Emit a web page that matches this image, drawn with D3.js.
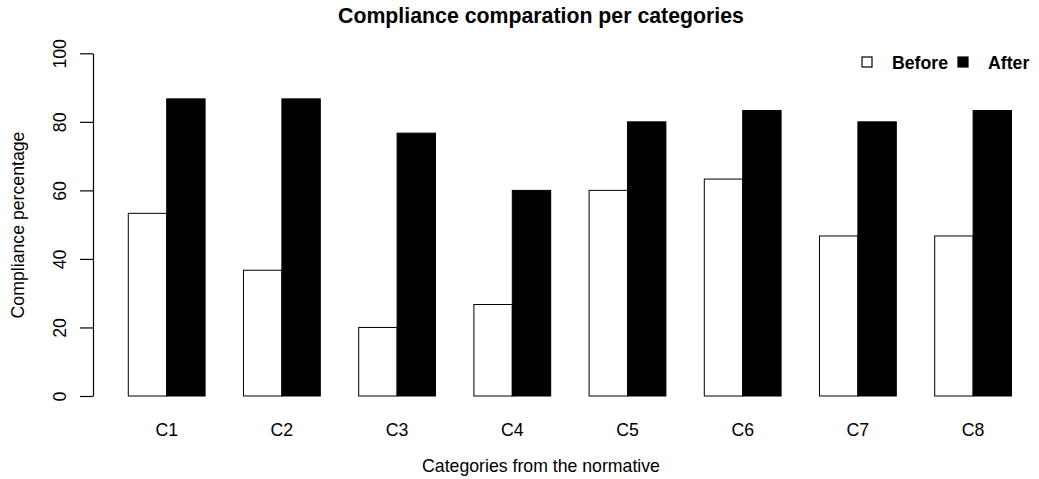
<!DOCTYPE html>
<html>
<head>
<meta charset="utf-8">
<script src="https://cdn.jsdelivr.net/npm/d3@7"></script>
<style>
  body { margin: 0; background: #fff; }
  text { font-family: "Liberation Sans", Arial, Helvetica, sans-serif; }
</style>
</head>
<body>
<div id="chart"></div>
<script>
// Compliance comparison, R barplot style (beside = TRUE)

const categories = ["C1", "C2", "C3", "C4", "C5", "C6", "C7", "C8"];
const seriesNames = ["Before", "After"];
const beforeValues = [53.3, 36.7, 20, 26.7, 60, 63.3, 46.7, 46.7];
const afterValues = [86.7, 86.7, 76.7, 60, 80, 83.3, 80, 83.3];
const yTicks = [0, 20, 40, 60, 80, 100];

const width = 1039, height = 479;
const baseFont = 17.7;

const svg = d3.select("#chart")
    .append("svg")
    .attr("width", width)
    .attr("height", height);

// Scales
const x = d3.scaleBand()
    .domain(categories)
    .range([128.3, 1011.5])
    .paddingInner(1 / 3)
    .paddingOuter(0);

const xInner = d3.scaleBand()
    .domain(seriesNames)
    .range([0, x.bandwidth()]);

const y = d3.scaleLinear().domain([0, 100]).range([396, 53.3]);

const colors = { Before: "#ffffff", After: "#000000" };

const rows = categories.map((c, i) => ({
    cat: c,
    values: [
        { key: "Before", value: beforeValues[i] },
        { key: "After", value: afterValues[i] }
    ]
}));

// Bars
const groups = svg.selectAll(".grp")
    .data(rows)
    .enter()
    .append("g")
    .attr("class", "grp")
    .attr("transform", d => `translate(${x(d.cat)},0)`);

groups.selectAll("rect")
    .data(d => d.values)
    .enter()
    .append("rect")
    .attr("x", d => xInner(d.key))
    .attr("y", d => y(d.value))
    .attr("width", xInner.bandwidth())
    .attr("height", d => y(0) - y(d.value))
    .attr("fill", d => colors[d.key])
    .attr("stroke", "#000")
    .attr("stroke-width", 1);

// Y axis
const yAxis = svg.append("g")
    .attr("transform", "translate(93,0)")
    .call(d3.axisLeft(y).tickValues(yTicks).tickSize(13).tickSizeOuter(0));

yAxis.select(".domain").attr("stroke-width", 1.2);
yAxis.selectAll(".tick line").attr("stroke-width", 1.2);
yAxis.selectAll(".tick text")
    .attr("transform", "rotate(-90)")
    .attr("x", 0)
    .attr("y", -27)
    .attr("dy", 0)
    .attr("text-anchor", "middle")
    .attr("font-size", baseFont + "px")
    .attr("fill", "#000");

// X axis (labels only)
const xAxis = svg.append("g")
    .attr("transform", "translate(0,396)")
    .call(d3.axisBottom(x).tickSize(0));

xAxis.select(".domain").remove();
xAxis.selectAll(".tick text")
    .attr("y", 40)
    .attr("dy", 0)
    .attr("font-size", baseFont + "px")
    .attr("fill", "#000");

// Titles
const centerX = 541;

svg.append("text")
    .attr("x", centerX)
    .attr("y", 23)
    .attr("text-anchor", "middle")
    .attr("font-size", "21.3px")
    .attr("font-weight", "bold")
    .text("Compliance comparation per categories");

svg.append("text")
    .attr("x", centerX)
    .attr("y", 472)
    .attr("text-anchor", "middle")
    .attr("font-size", baseFont + "px")
    .text("Categories from the normative");

svg.append("text")
    .attr("transform", "rotate(-90)")
    .attr("x", -225)
    .attr("y", 24)
    .attr("text-anchor", "middle")
    .attr("font-size", baseFont + "px")
    .text("Compliance percentage");

// Legend
const legendX = [862, 958];
const legend = svg.selectAll(".legend")
    .data(seriesNames)
    .enter()
    .append("g")
    .attr("class", "legend")
    .attr("transform", (d, i) => `translate(${legendX[i]},57)`);

legend.append("rect")
    .attr("width", 10)
    .attr("height", 10)
    .attr("fill", d => colors[d])
    .attr("stroke", "#000")
    .attr("stroke-width", 1.2);

legend.append("text")
    .attr("x", 30)
    .attr("y", 11.5)
    .attr("font-size", baseFont + "px")
    .attr("font-weight", "bold")
    .text(d => d);
</script>
</body>
</html>
